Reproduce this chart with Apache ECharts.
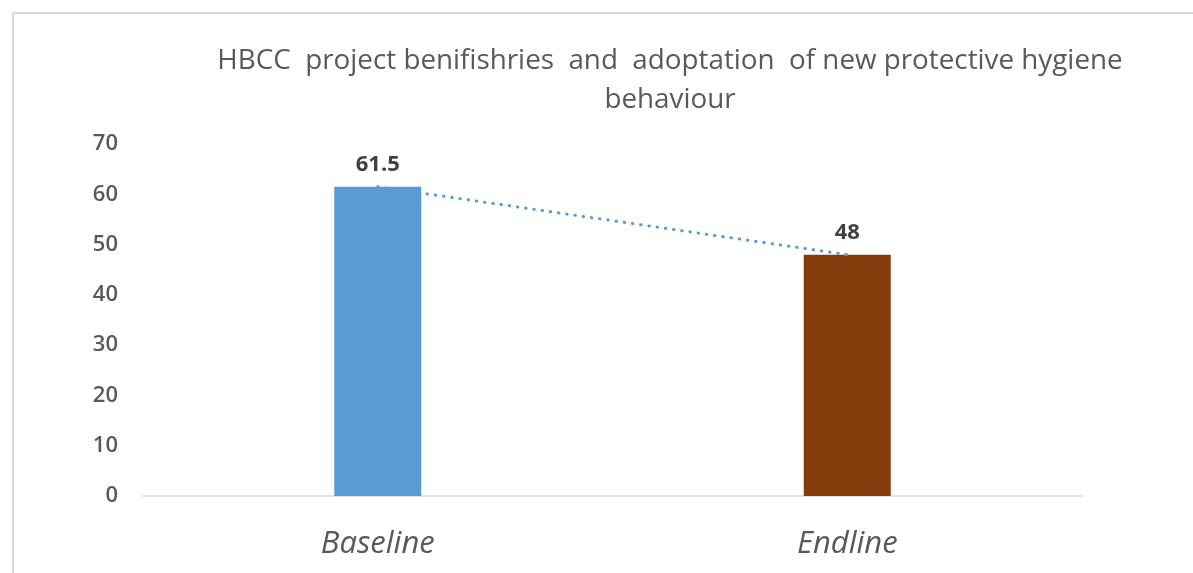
<!DOCTYPE html>
<html>
<head>
<meta charset="utf-8">
<style>
  html, body { margin: 0; padding: 0; background: #fff; }
  #frame { position: absolute; left: 12px; top: 12px; right: -2px; bottom: -2px; border: 2px solid #d9d9d9; box-sizing: border-box; }
  #chart { position: absolute; left: 0; top: 0; width: 1193px; height: 573px; }
</style>
<script src="https://cdn.jsdelivr.net/npm/echarts@6/dist/echarts.min.js"></script>
</head>
<body>
<div id="frame"></div>
<div id="chart"></div>
<script>
// Survey rounds and the share of beneficiaries adopting the behaviour
const categories = ['Baseline', 'Endline'];
const values = [61.5, 48];
const barColors = ['#5B9BD5', '#843C0C'];
const yTicks = [0, 10, 20, 30, 40, 50, 60, 70];

const chart = echarts.init(document.getElementById('chart'), null, { renderer: 'canvas' });
const font = '"Open Sans", "Noto Sans", sans-serif';

chart.setOption({
  backgroundColor: 'transparent',
  animation: false,
  title: {
    text: 'HBCC  project benifishries  and  adoptation  of new protective hygiene\nbehaviour',
    left: 665,
    top: 37,
    textAlign: 'center',
    textStyle: { fontFamily: font, fontSize: 27.8, fontWeight: 'normal', color: '#595959', lineHeight: 39 }
  },
  grid: { left: 143, right: 111, top: 144, bottom: 77 },
  xAxis: {
    type: 'category',
    data: categories,
    axisLine: { lineStyle: { color: '#d9d9d9', width: 1.5 } },
    axisTick: { show: false },
    axisLabel: { fontFamily: font, fontSize: 31, fontStyle: 'italic', color: '#595959', margin: 33 }
  },
  yAxis: {
    type: 'value',
    min: yTicks[0],
    max: yTicks[yTicks.length - 1],
    interval: 10,
    splitLine: { show: false },
    axisLine: { show: false },
    axisTick: { show: false },
    axisLabel: { fontFamily: font, fontSize: 22, fontWeight: 600, color: '#595959', margin: 25 }
  },
  series: [
    {
      type: 'bar',
      barWidth: 87,
      data: values.map((v, i) => ({ value: v, itemStyle: { color: barColors[i] } })),
      label: {
        show: true,
        position: 'top',
        distance: 11,
        fontFamily: font,
        fontSize: 22,
        fontWeight: 'bold',
        color: '#404040'
      },
      z: 2
    },
    {
      // linear trend between the two rounds
      type: 'line',
      data: values,
      symbol: 'none',
      lineStyle: { color: '#5B9BD5', width: 3, type: [0.5, 7.8], cap: 'round' },
      z: 3
    }
  ]
});
</script>
</body>
</html>
